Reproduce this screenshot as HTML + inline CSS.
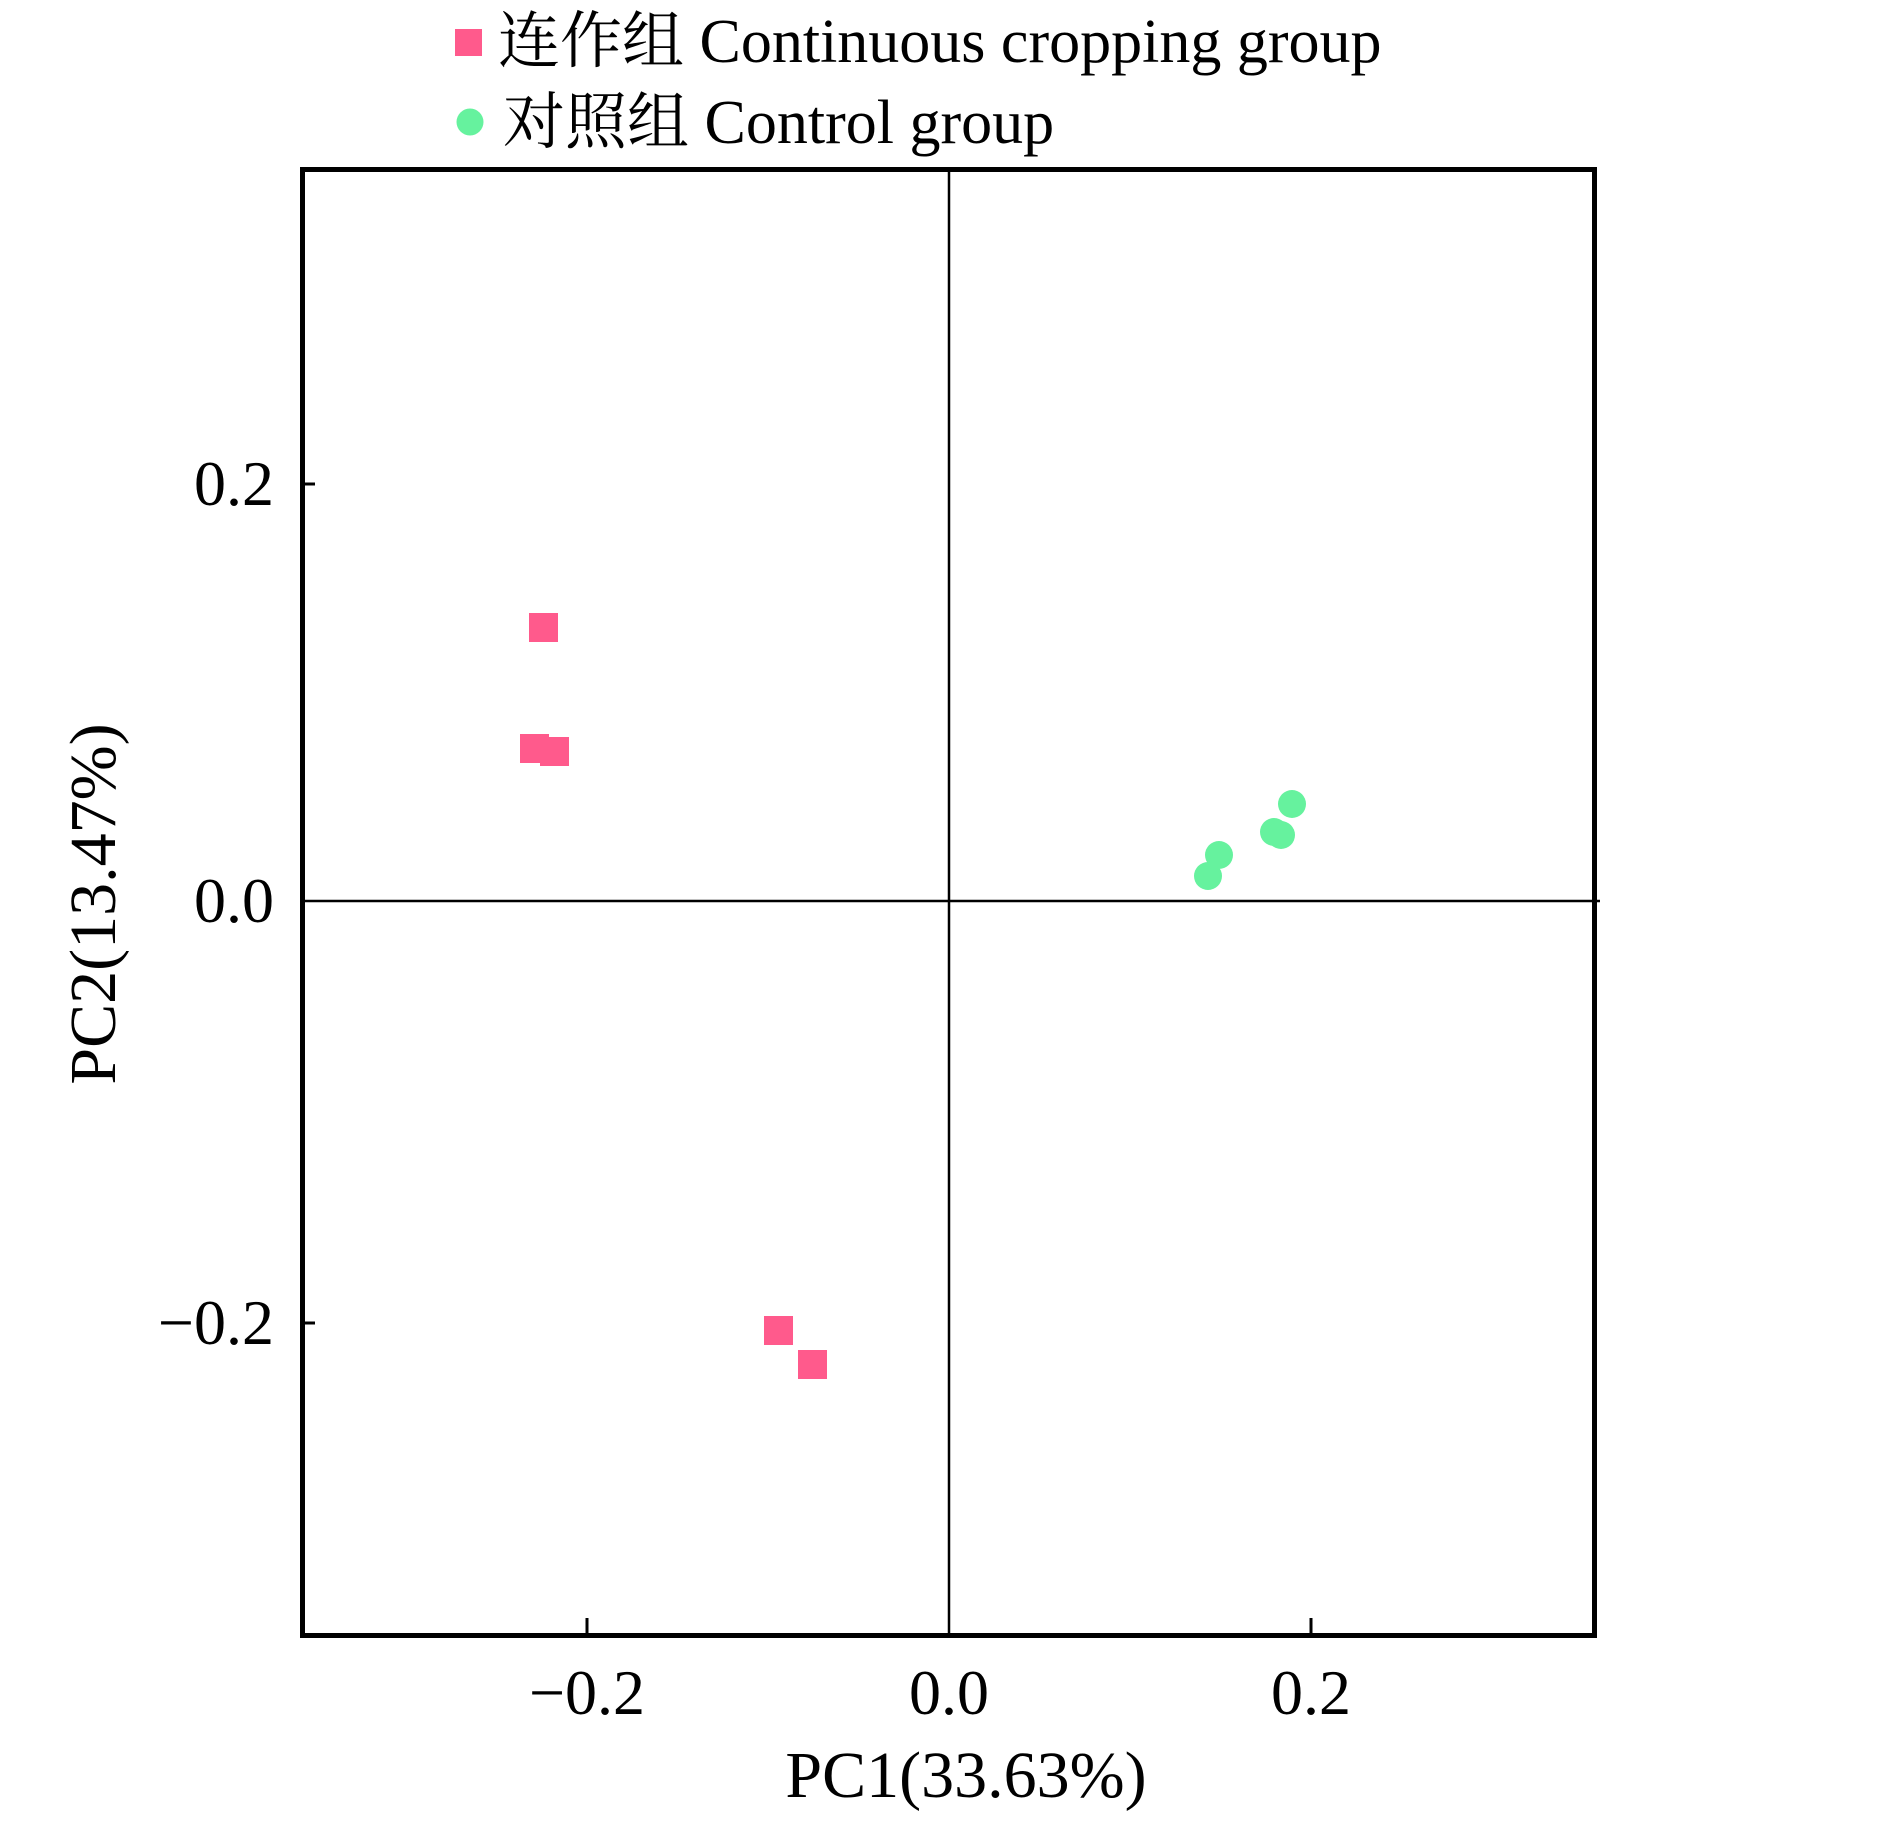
<!DOCTYPE html>
<html><head><meta charset="utf-8"><style>html,body{margin:0;padding:0;background:#fff}</style></head>
<body>
<svg width="1890" height="1822" viewBox="0 0 1890 1822" xmlns="http://www.w3.org/2000/svg" font-family="'Liberation Serif','Noto Serif CJK SC',serif">
<rect width="1890" height="1822" fill="#fff"/>
<!-- legend -->
<rect x="455" y="29" width="27" height="27" fill="#ff5a8c"/>
<text x="498" y="62" font-size="62" fill="#000">连作组 Continuous cropping group</text>
<circle cx="470" cy="122" r="13.5" fill="#66f29e"/>
<text x="503" y="143" font-size="62" fill="#000">对照组 Control group</text>
<!-- zero lines -->
<line x1="949" y1="167" x2="949" y2="1636" stroke="#000" stroke-width="2.5"/>
<line x1="301" y1="901" x2="1600" y2="901" stroke="#000" stroke-width="2.5"/>
<!-- ticks -->
<g stroke="#000" stroke-width="3">
<line x1="301" y1="484" x2="315" y2="484"/>
<line x1="301" y1="1323" x2="315" y2="1323"/>
<line x1="587" y1="1636" x2="587" y2="1618"/>
<line x1="1311" y1="1636" x2="1311" y2="1618"/>
</g>
<!-- frame -->
<rect x="302.5" y="169.5" width="1292" height="1466" fill="none" stroke="#000" stroke-width="5"/>
<!-- tick labels -->
<g font-size="64" fill="#000">
<text x="274" y="505" text-anchor="end">0.2</text>
<text x="274" y="922" text-anchor="end">0.0</text>
<text x="274" y="1344" text-anchor="end">−0.2</text>
<text x="587" y="1714" text-anchor="middle">−0.2</text>
<text x="949" y="1714" text-anchor="middle">0.0</text>
<text x="1311" y="1714" text-anchor="middle">0.2</text>
<text x="966" y="1797" text-anchor="middle" font-size="66">PC1(33.63%)</text>
<text transform="translate(115,904) rotate(-90)" text-anchor="middle" font-size="66">PC2(13.47%)</text>
</g>
<!-- points -->
<g fill="#ff5a8c">
<rect x="529" y="613" width="29" height="29"/>
<rect x="520" y="734" width="29" height="29"/>
<rect x="540" y="737" width="29" height="29"/>
<rect x="764" y="1316" width="29" height="29"/>
<rect x="798" y="1350" width="29" height="29"/>
</g>
<g fill="#66f29e">
<circle cx="1292" cy="804" r="14"/>
<circle cx="1274" cy="832" r="14"/>
<circle cx="1281" cy="835" r="14"/>
<circle cx="1219" cy="855" r="14"/>
<circle cx="1208" cy="876" r="14"/>
</g>
</svg>
</body></html>
